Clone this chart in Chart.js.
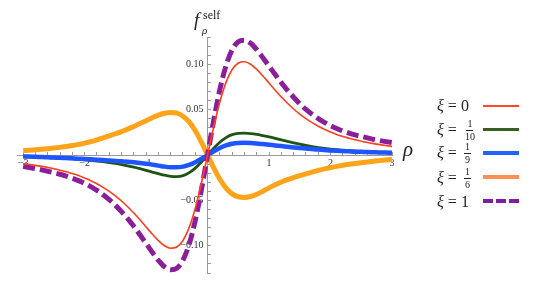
<!DOCTYPE html>
<html><head><meta charset="utf-8">
<script src="https://cdn.jsdelivr.net/npm/chart.js@4"></script>
<style>
html,body{margin:0;padding:0;background:#fff;}
#wrap{position:relative;width:545px;height:299px;font-family:"Liberation Serif","DejaVu Serif",serif;color:#222;}
canvas{position:absolute;left:0;top:0;}
.ov{position:absolute;white-space:nowrap;line-height:1;}
.it{font-style:italic;}
.row{position:absolute;left:437px;height:22px;display:flex;align-items:center;font-size:16px;}
.frac{display:inline-flex;flex-direction:column;align-items:center;font-size:10px;line-height:1;margin-left:3px;vertical-align:middle;}
.frac .n{padding:0 1px 1px;border-bottom:1px solid #222;}
.frac .d{padding:1px 1px 0;}
.sw{position:absolute;left:483px;width:36px;}
</style></head><body>
<div id="wrap">
<canvas id="c" width="545" height="299"></canvas>
<div class="ov it" style="left:194px;top:10px;font-size:19px;">f</div>
<div class="ov" style="left:203px;top:9px;font-size:12px;">self</div>
<div class="ov it" style="left:202px;top:25px;font-size:11px;">ρ</div>
<div class="ov it" style="left:403px;top:139px;font-size:21px;">ρ</div>
<div class="row" style="top:95px;"><span class="it">ξ</span>&nbsp;=&nbsp;0</div>
<div class="row" style="top:119px;"><span class="it">ξ</span>&nbsp;=&nbsp;<span class="frac"><span class="n">1</span><span class="d">10</span></span></div>
<div class="row" style="top:142px;"><span class="it">ξ</span>&nbsp;=&nbsp;<span class="frac"><span class="n">1</span><span class="d">9</span></span></div>
<div class="row" style="top:167px;"><span class="it">ξ</span>&nbsp;=&nbsp;<span class="frac"><span class="n">1</span><span class="d">6</span></span></div>
<div class="row" style="top:191px;"><span class="it">ξ</span>&nbsp;=&nbsp;1</div>
<div class="sw" style="top:105px;height:2px;background:#ff4a26;"></div>
<div class="sw" style="top:128px;height:3px;background:#3a5f22;"></div>
<div class="sw" style="top:151px;height:4px;background:#2263ff;"></div>
<div class="sw" style="top:175px;height:4px;background:#ff8f55;"></div>
<div class="sw" style="top:199px;height:4px;background:repeating-linear-gradient(90deg,#7d1fa3 0 10px,transparent 10px 13px);"></div>
</div>
<script>
const rho = [-3.0,-2.9,-2.8,-2.7,-2.6,-2.5,-2.4,-2.3,-2.2,-2.1,-2.0,-1.9,-1.8,-1.7,-1.6,-1.5,-1.4,-1.3,-1.2,-1.1,-1.0,-0.9,-0.8,-0.7,-0.6,-0.5,-0.4,-0.3,-0.2,-0.1,
  0.0,0.1,0.2,0.3,0.4,0.5,0.6,0.7,0.8,0.9,1.0,1.1,1.2,1.3,1.4,1.5,1.6,1.7,1.8,1.9,2.0,2.1,2.2,2.3,2.4,2.5,2.6,2.7,2.8,2.9,3.0];

const xi0 = [-0.0095,-0.0104,-0.0114,-0.0125,-0.0137,-0.0151,-0.0167,-0.0184,-0.0205,-0.0227,-0.0254,-0.0283,-0.0317,-0.0356,-0.0400,-0.0450,-0.0507,-0.0570,-0.0639,-0.0714,-0.0793,-0.0871,-0.0943,-0.1000,-0.1028,-0.1014,-0.0942,-0.0800,-0.0586,-0.0311,
  0,0.0311,0.0586,0.0800,0.0942,0.1014,0.1028,0.1000,0.0943,0.0871,0.0793,0.0714,0.0639,0.0570,0.0507,0.0450,0.0400,0.0356,0.0317,0.0283,0.0254,0.0227,0.0205,0.0184,0.0167,0.0151,0.0137,0.0125,0.0114,0.0104,0.0095];

const xi1_10 = [-0.0020,-0.0022,-0.0024,-0.0026,-0.0029,-0.0032,-0.0035,-0.0039,-0.0043,-0.0048,-0.0053,-0.0059,-0.0066,-0.0074,-0.0083,-0.0093,-0.0105,-0.0119,-0.0134,-0.0151,-0.0169,-0.0188,-0.0206,-0.0223,-0.0235,-0.0239,-0.0228,-0.0196,-0.0145,-0.0078,
  0,0.0075,0.0141,0.0192,0.0224,0.0238,0.0240,0.0236,0.0227,0.0214,0.0200,0.0184,0.0167,0.0150,0.0134,0.0119,0.0105,0.0093,0.0082,0.0073,0.0065,0.0058,0.0052,0.0047,0.0042,0.0038,0.0034,0.0031,0.0028,0.0026,0.0024];

const xi1_9 = [-0.0015,-0.0017,-0.0020,-0.0022,-0.0025,-0.0028,-0.0031,-0.0034,-0.0037,-0.0040,-0.0044,-0.0048,-0.0052,-0.0056,-0.0060,-0.0065,-0.0070,-0.0075,-0.0081,-0.0088,-0.0096,-0.0106,-0.0117,-0.0128,-0.0135,-0.0136,-0.0128,-0.0110,-0.0080,-0.0042,
  0,0.0041,0.0078,0.0106,0.0124,0.0132,0.0134,0.0132,0.0127,0.0120,0.0113,0.0105,0.0098,0.0090,0.0083,0.0077,0.0071,0.0065,0.0060,0.0055,0.0050,0.0046,0.0043,0.0040,0.0037,0.0035,0.0032,0.0030,0.0028,0.0027,0.0025];

const xi1_6 = [0.0049,0.0053,0.0058,0.0063,0.0069,0.0076,0.0084,0.0093,0.0104,0.0117,0.0131,0.0148,0.0167,0.0188,0.0210,0.0234,0.0258,0.0285,0.0315,0.0346,0.0378,0.0411,0.0440,0.0460,0.0469,0.0462,0.0428,0.0364,0.0267,0.0141,
  0,-0.0141,-0.0267,-0.0364,-0.0428,-0.0460,-0.0467,-0.0457,-0.0433,-0.0399,-0.0362,-0.0328,-0.0298,-0.0271,-0.0248,-0.0227,-0.0207,-0.0188,-0.0170,-0.0153,-0.0138,-0.0125,-0.0113,-0.0103,-0.0094,-0.0085,-0.0077,-0.0069,-0.0062,-0.0055,-0.0048];

const xi1 = [-0.0125,-0.0137,-0.0150,-0.0164,-0.0179,-0.0195,-0.0212,-0.0233,-0.0257,-0.0283,-0.0312,-0.0348,-0.0390,-0.0438,-0.0492,-0.0554,-0.0624,-0.0701,-0.0786,-0.0878,-0.0975,-0.1071,-0.1160,-0.1230,-0.1264,-0.1247,-0.1159,-0.0984,-0.0721,-0.0383,
  0,0.0383,0.0721,0.0984,0.1159,0.1247,0.1264,0.1230,0.1160,0.1071,0.0980,0.0886,0.0796,0.0712,0.0636,0.0564,0.0502,0.0448,0.0401,0.0360,0.0323,0.0292,0.0265,0.0242,0.0222,0.0205,0.0188,0.0172,0.0159,0.0147,0.0136];

const xTickValues = [-3,-2,-1,1,2,3];
const xTickLabels = ['\u22123','\u22122','\u22121','1','2','3'];
const yTickValues = [-0.10,-0.05,0.05,0.10];
const yTickLabels = ['\u22120.10','\u22120.05','0.05','0.10'];

const FONT = '"Liberation Serif","DejaVu Serif",serif';
const pts = arr => rho.map((x,i)=>({x:x, y:arr[i]}));
function lbl(values, labels, v){
  for (let i=0;i<values.length;i++){ if (Math.abs(values[i]-v) < 1e-6) return labels[i]; }
  return '';
}
const common = {pointRadius:0, fill:false, cubicInterpolationMode:'monotone', borderCapStyle:'butt', borderJoinStyle:'round'};

new Chart(document.getElementById('c'), {
  type:'line',
  data:{datasets:[
    Object.assign({label:'ξ = 0', data:pts(xi0), borderColor:'#ff3d1f', borderWidth:1.6, order:0}, common),
    Object.assign({label:'ξ = 1', data:pts(xi1), borderColor:'#8a1f99', borderWidth:5, borderDash:[12,5], order:1}, common),
    Object.assign({label:'ξ = 1/6', data:pts(xi1_6), borderColor:'#ffa41a', borderWidth:5, order:2}, common),
    Object.assign({label:'ξ = 1/9', data:pts(xi1_9), borderColor:'#1f55ff', borderWidth:4.5, order:3}, common),
    Object.assign({label:'ξ = 1/10', data:pts(xi1_10), borderColor:'#1f5513', borderWidth:2.8, order:4}, common)
  ]},
  options:{
    responsive:false, animation:false, devicePixelRatio:1,
    layout:{padding:{left:17, right:153, top:37, bottom:26}},
    plugins:{legend:{display:false}, tooltip:{enabled:false}, title:{display:false}},
    scales:{
      x:{type:'linear', min:-3.1, max:3, position:{y:0},
        afterBuildTicks:s=>{ const t=[]; for(let k=-15;k<=15;k++){ t.push({value:k/5}); } s.ticks=t; },
        afterFit:s=>{ s.height=0; },
        border:{display:true, color:'#9a9a9a', width:1},
        grid:{drawOnChartArea:false, drawTicks:true, tickLength:-4, color:'#9a9a9a'},
        ticks:{autoSkip:false, maxRotation:0, minRotation:0, padding:6, color:'#333', font:{family:FONT, size:10},
          callback:(v)=>lbl(xTickValues, xTickLabels, v)}
      },
      y:{type:'linear', min:-0.13, max:0.13, position:{x:0},
        afterBuildTicks:s=>{ const t=[]; for(let k=-13;k<=13;k++){ t.push({value:k/100}); } s.ticks=t; },
        afterFit:s=>{ s.width=0; },
        border:{display:true, color:'#9a9a9a', width:1},
        grid:{drawOnChartArea:false, drawTicks:true, tickLength:-4, color:'#9a9a9a'},
        ticks:{autoSkip:false, color:'#333', font:{family:FONT, size:10},
          callback:(v)=>{ const s=lbl(yTickValues, yTickLabels, v); return s ? s+'\u2009\u2009' : ''; }}
      }
    }
  }
});
</script>
</body></html>
